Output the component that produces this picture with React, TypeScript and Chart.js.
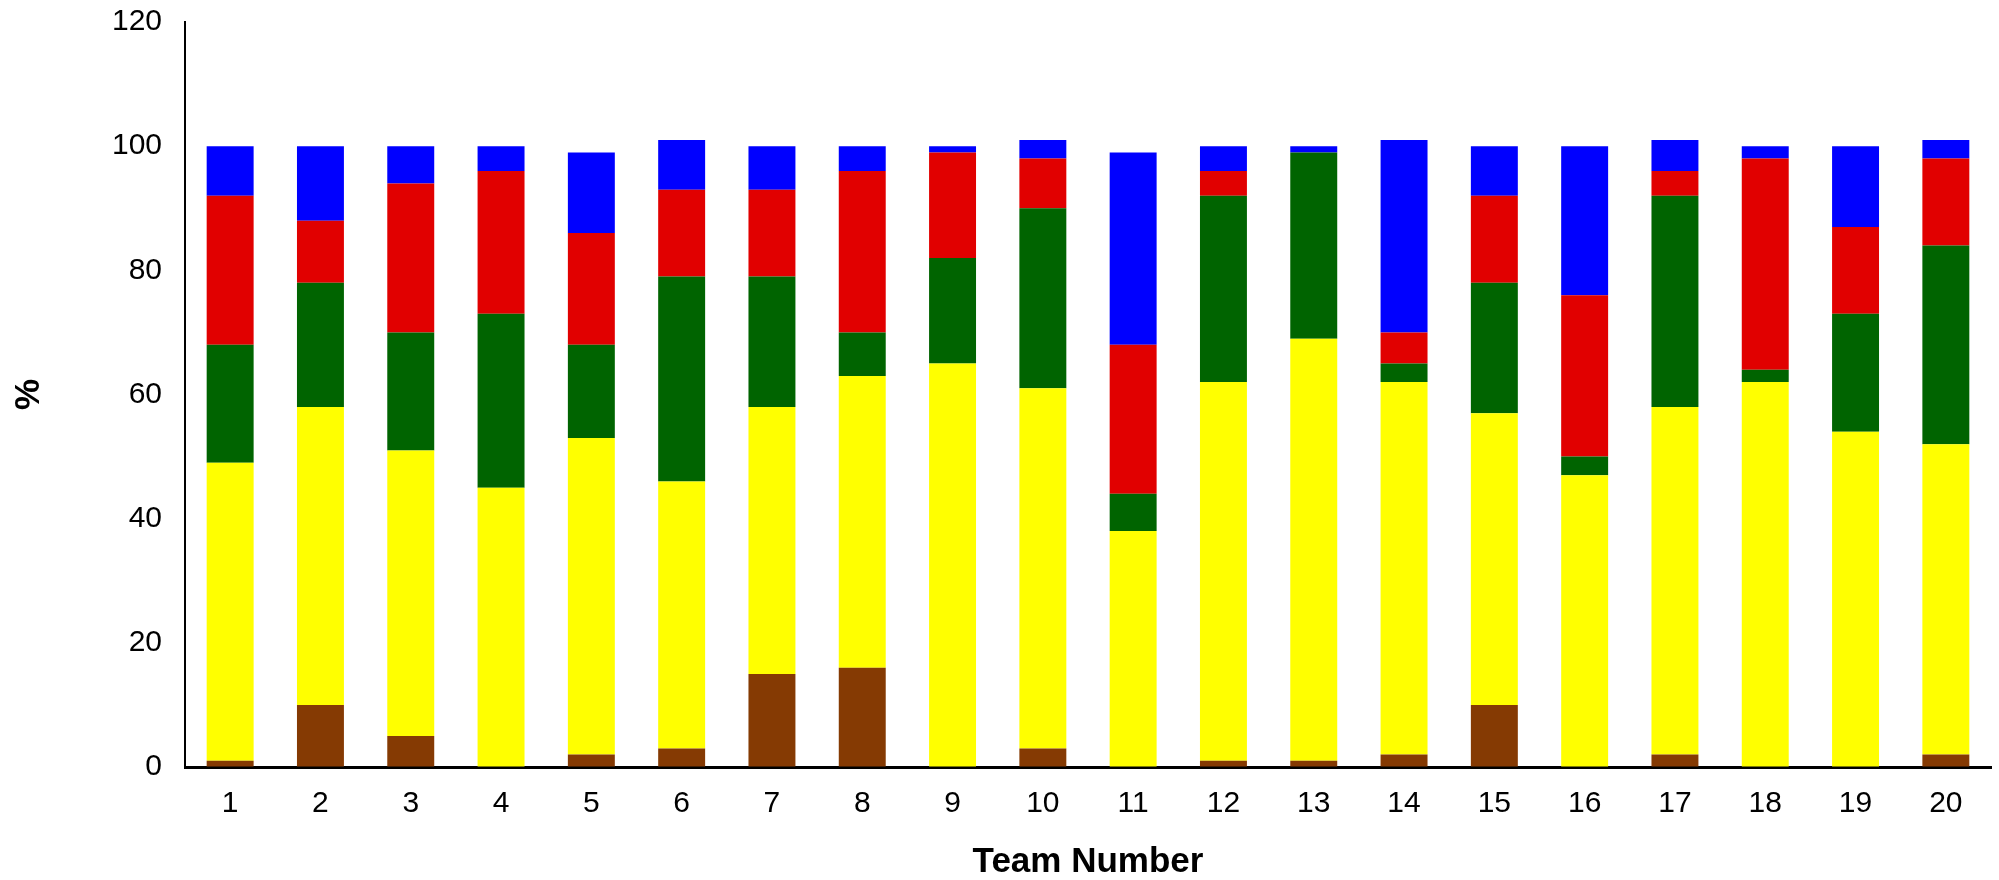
import React, { useEffect, useRef } from "react";
import { Chart, registerables } from "chart.js";

Chart.register(...registerables);

const teams = ["1","2","3","4","5","6","7","8","9","10","11","12","13","14","15","16","17","18","19","20"];
const brownValues = [1, 10, 5, 0, 2, 3, 15, 16, 0, 3, 0, 1, 1, 2, 10, 0, 2, 0, 0, 2];
const yellowValues = [48, 48, 46, 45, 51, 43, 43, 47, 65, 58, 38, 61, 68, 60, 47, 47, 56, 62, 54, 50];
const greenValues = [19, 20, 19, 28, 15, 33, 21, 7, 17, 29, 6, 30, 30, 3, 21, 3, 34, 2, 19, 32];
const redValues = [24, 10, 24, 23, 18, 14, 14, 26, 17, 8, 24, 4, 0, 5, 14, 26, 4, 34, 14, 14];
const blueValues = [8, 12, 6, 4, 13, 8, 7, 4, 1, 3, 31, 4, 1, 31, 8, 24, 5, 2, 13, 3];
const yTicks = [0, 20, 40, 60, 80, 100, 120];

const FONT = "'Liberation Sans', Arial, Helvetica, sans-serif";

export default function App() {
  const ref = useRef<HTMLCanvasElement | null>(null);
  useEffect(() => {
    if (!ref.current) return;
    const mk = (label: string, data: number[], color: string) => ({
      label,
      data,
      backgroundColor: color,
      borderWidth: 0,
      barPercentage: 0.52,
      categoryPercentage: 1,
    });
    const chart = new Chart(ref.current, {
      type: "bar",
      data: {
        labels: teams,
        datasets: [
          mk("Brown", brownValues, "#853A03"),
          mk("Yellow", yellowValues, "#FFFF00"),
          mk("Green", greenValues, "#006400"),
          mk("Red", redValues, "#E10000"),
          mk("Blue", blueValues, "#0000FF"),
        ],
      },
      options: {
        responsive: false,
        animation: false,
        layout: { padding: { top: 22, right: 8, left: 0, bottom: 0 } },
        plugins: { legend: { display: false }, tooltip: { enabled: false } },
        scales: {
          x: {
            stacked: true,
            grid: { display: true, drawOnChartArea: false, drawTicks: false },
            border: { display: true, color: "#000", width: 3 },
            ticks: { color: "#000", padding: 19, font: { family: FONT, size: 30 } },
            title: {
              display: true,
              text: "Team Number",
              color: "#000",
              padding: { top: 0, bottom: 0 },
              font: { family: FONT, size: 35, weight: "bold", lineHeight: 1 },
            },
            afterFit: (s: any) => { s.height = 113; },
          },
          y: {
            stacked: true,
            min: 0,
            max: 120,
            afterBuildTicks: (s: any) => { s.ticks = yTicks.map((v) => ({ value: v })); },
            grid: { display: true, drawOnChartArea: false, drawTicks: false },
            border: { display: true, color: "#000", width: 2 },
            ticks: { color: "#000", padding: 23, font: { family: FONT, size: 30 } },
            title: {
              display: true,
              text: "%",
              color: "#000",
              padding: { top: 12, bottom: 0 },
              font: { family: FONT, size: 35, weight: "bold", lineHeight: 1 },
            },
            afterFit: (s: any) => {
              s.width = 185;
              s.paddingTop = 0;
              s.paddingBottom = 0;
            },
          },
        },
      },
    });
    return () => chart.destroy();
  }, []);
  return (
    <div style={{ position: "fixed", left: 0, top: 0, width: 1999, height: 880, background: "#fff" }}>
      <canvas ref={ref} width={1999} height={880} style={{ display: "block" }} />
    </div>
  );
}
